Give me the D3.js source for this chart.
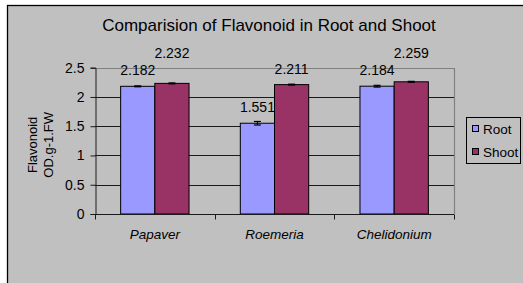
<!DOCTYPE html>
<html>
<head>
<meta charset="utf-8">
<script src="https://cdn.jsdelivr.net/npm/d3@7"></script>
<style>
	body { margin: 0; background: #fff; }
	svg { display: block; font-family: "Liberation Sans", Arial, sans-serif; }
</style>
</head>
<body>
<svg id="viz"></svg>
<script>
/* data */
var categories = ["Papaver", "Roemeria", "Chelidonium"];
var seriesNames = ["Root", "Shoot"];
var rootValues = [2.182, 1.551, 2.184];
var shootValues = [2.232, 2.211, 2.259];
var rootErrors = [0.008, 0.03, 0.015];
var shootErrors = [0.008, 0.008, 0.008];
var yTicks = [0, 0.5, 1, 1.5, 2, 2.5];
var colors = { Root: "#9999ff", Shoot: "#993366" };

var W = 523, H = 283;
var plot = { left: 95, right: 454, top: 67.7, bottom: 214 };

var svg = d3.select('#viz')
		.attr('width', W)
		.attr('height', H);

/* chart area */
svg.append('rect')
	.attr('x', 7.5).attr('y', 5.5)
	.attr('width', W + 10).attr('height', H + 10)
	.attr('fill', '#c0c0c0')
	.attr('stroke', '#000')
	.attr('stroke-width', 1.3);

var y = d3.scaleLinear()
	.domain([0, 2.5])
	.range([plot.bottom, plot.top]);

var x0 = d3.scaleBand()
	.domain(categories)
	.range([plot.left, plot.right]);

var barW = x0.step() / 3.5;

var x1 = d3.scaleBand()
	.domain(seriesNames)
	.range([-barW, barW]);

var rows = categories.map(function(c, i){
	return [
		{ cat: c, key: "Root", value: rootValues[i], err: rootErrors[i] },
		{ cat: c, key: "Shoot", value: shootValues[i], err: shootErrors[i] }
	];
});

/* gridlines */
svg.append('g')
	.selectAll('line')
	.data(yTicks.filter(function(t){ return t > 0 && t < 2.5; }))
	.enter().append('line')
	.attr('x1', plot.left).attr('x2', plot.right)
	.attr('y1', function(d){ return Math.round(y(d)) + 0.5; })
	.attr('y2', function(d){ return Math.round(y(d)) + 0.5; })
	.attr('stroke', '#1a1a1a');

/* plot border (top, right) */
svg.append('path')
	.attr('d', 'M' + plot.left + ',' + (Math.round(plot.top) + 0.5) +
		'H' + (plot.right + 0.5) + 'V' + plot.bottom)
	.attr('fill', 'none')
	.attr('stroke', '#808080')
	.attr('stroke-width', 1.2);

/* bars */
var groups = svg.append('g')
	.selectAll('g')
	.data(rows)
	.enter().append('g')
	.attr('transform', function(d){
		return 'translate(' + (x0(d[0].cat) + x0.bandwidth() / 2) + ',0)';
	});

groups.selectAll('rect')
	.data(function(d){ return d; })
	.enter().append('rect')
	.attr('x', function(d){ return x1(d.key); })
	.attr('y', function(d){ return y(d.value); })
	.attr('width', x1.bandwidth())
	.attr('height', function(d){ return y(0) - y(d.value); })
	.attr('fill', function(d){ return colors[d.key]; })
	.attr('stroke', '#000')
	.attr('stroke-width', 1);

/* error bars */
var eb = groups.selectAll('.err')
	.data(function(d){ return d; })
	.enter().append('g')
	.attr('class', 'err')
	.attr('transform', function(d){
		return 'translate(' + (x1(d.key) + x1.bandwidth() / 2) + ',0)';
	});

eb.append('line')
	.attr('x1', 0).attr('x2', 0)
	.attr('y1', function(d){ return y(d.value + d.err); })
	.attr('y2', function(d){ return y(d.value - d.err); })
	.attr('stroke', '#000');
eb.selectAll('.cap')
	.data(function(d){ return [d.value + d.err, d.value - d.err]; })
	.enter().append('line')
	.attr('x1', -3.5).attr('x2', 3.5)
	.attr('y1', function(v){ return y(v); })
	.attr('y2', function(v){ return y(v); })
	.attr('stroke', '#000')
	.attr('stroke-width', 1.2);

/* data labels: shoot label goes up when it would collide with root label */
groups.each(function(d){
	var rootY = y(d[0].value) - 16;
	var shootY = y(d[1].value) - 16;
	if (Math.abs(shootY - rootY) < 12) shootY = rootY - 17;
	var g = d3.select(this);
	[[d[0], rootY], [d[1], shootY]].forEach(function(p){
		g.append('text')
			.attr('x', x1(p[0].key) + x1.bandwidth() / 2)
			.attr('y', p[1])
			.attr('dy', '0.35em')
			.attr('text-anchor', 'middle')
			.attr('font-size', 14)
			.attr('fill', '#000')
			.text(d3.format('.3f')(p[0].value));
	});
});

/* y axis */
var yAxis = d3.axisLeft(y)
	.tickValues(yTicks)
	.tickFormat(d3.format('~g'))
	.tickSize(5)
	.tickPadding(6);

var ya = svg.append('g')
	.attr('transform', 'translate(' + (plot.left + 0.5) + ',0)')
	.call(yAxis);
ya.selectAll('text').attr('font-size', 14).attr('font-family', null).attr('fill', '#000');
ya.selectAll('line, path').attr('stroke', '#1a1a1a');

/* x axis */
var xa = svg.append('g')
	.attr('transform', 'translate(0,' + (plot.bottom + 0.5) + ')');
xa.append('line')
	.attr('x1', plot.left).attr('x2', plot.right)
	.attr('stroke', '#1a1a1a');
xa.selectAll('.tick')
	.data(categories.map(function(c){ return x0(c); }).concat([plot.right]))
	.enter().append('line')
	.attr('x1', function(d){ return Math.round(d) + 0.5; })
	.attr('x2', function(d){ return Math.round(d) + 0.5; })
	.attr('y1', 0).attr('y2', 5)
	.attr('stroke', '#1a1a1a');
xa.selectAll('text')
	.data(categories)
	.enter().append('text')
	.attr('x', function(d){ return x0(d) + x0.bandwidth() / 2; })
	.attr('y', 20)
	.attr('dy', '0.35em')
	.attr('text-anchor', 'middle')
	.attr('font-size', 13.5)
	.attr('font-style', 'italic')
	.text(function(d){ return d; });

/* y title */
var yt = svg.append('text')
	.attr('transform', 'translate(40,' + ((plot.top + plot.bottom) / 2 + 4) + ') rotate(-90)')
	.attr('text-anchor', 'middle')
	.attr('font-size', 13);
yt.append('tspan').attr('x', 0).attr('y', -8).attr('dy', '0.35em').text('Flavonoid');
yt.append('tspan').attr('x', 0).attr('y', 8).attr('dy', '0.35em').text('OD.g-1.FW');

/* title */
svg.append('text')
	.attr('x', 269)
	.attr('y', 25)
	.attr('dy', '0.35em')
	.attr('text-anchor', 'middle')
	.attr('font-size', 17)
	.text('Comparision of Flavonoid in Root and Shoot');

/* legend */
var legend = svg.append('g');
legend.append('rect')
	.attr('x', 466.5).attr('y', 117.5)
	.attr('width', 54).attr('height', 46)
	.attr('fill', '#c0c0c0')
	.attr('stroke', '#000');
var li = legend.selectAll('.item')
	.data(seriesNames)
	.enter().append('g')
	.attr('transform', function(d, i){ return 'translate(472,' + (129 + i * 23) + ')'; });
li.append('rect')
	.attr('x', 0.5).attr('y', -3.5)
	.attr('width', 6).attr('height', 6)
	.attr('fill', function(d){ return colors[d]; })
	.attr('stroke', '#000');
li.append('text')
	.attr('x', 11)
	.attr('y', 0)
	.attr('dy', '0.35em')
	.attr('font-size', 13.5)
	.text(function(d){ return d; });
</script>
</body>
</html>
